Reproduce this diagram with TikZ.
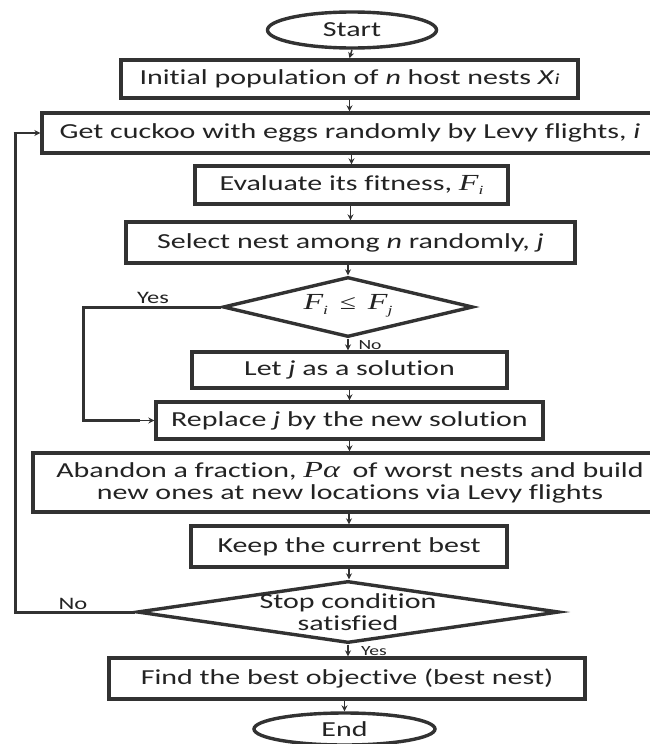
\documentclass[tikz,border=0pt]{standalone}
\usepackage{fontspec}
\setmainfont{Carlito}[FakeStretch=1.4,Ligatures=NoCommon]
\newfontfamily\mathfam{Liberation Serif}[FakeStretch=1.4]
\usetikzlibrary{shapes.geometric,arrows.meta}
\definecolor{ln}{RGB}{50,50,50}
\definecolor{tx}{RGB}{35,35,35}
\newcommand{\mFsub}[1]{{\mathfam\itshape\fontsize{23}{23}\selectfont F}\raisebox{-0.45ex}{\mathfam\itshape\fontsize{12.5}{12}\selectfont #1}}
\begin{document}
\begin{tikzpicture}[x=1pt,y=-1pt,
  font=\fontsize{21.4}{22}\selectfont, text=tx,
  box/.style={draw=ln, line width=3.4pt, rectangle, inner sep=0pt, align=center},
  term/.style={draw=ln, line width=3.4pt, ellipse, inner sep=0pt},
  dia/.style={draw=ln, line width=3.4pt, diamond, inner sep=0pt},
  arr/.style={draw=ln, line width=1.5pt, -{Stealth[length=6pt,width=6pt]}},
  loopln/.style={draw=ln, line width=3pt},
  lblbig/.style={font=\fontsize{17.5}{18}\selectfont, inner sep=0pt},
  lblsmall/.style={font=\fontsize{14}{14}\selectfont, inner sep=0pt}]
\useasboundingbox (0,0) rectangle (650,744);
\fill[white] (0,0) rectangle (650,744);

\node[term, minimum width=169pt, minimum height=36pt] (start) at (352,30) {Start};
\node[box, minimum width=457pt, minimum height=38pt] (b1) at (349.5,79) {Initial population of \textit{n} host nests \textit{X}{\fontsize{15.5}{15}\selectfont\textit{i}}};
\node[box, minimum width=616pt, minimum height=40pt] (b2) at (350,133) {Get cuckoo with eggs randomly by Levy flights, \textit{i}};
\node[box, minimum width=313pt, minimum height=38pt] (b3) at (351.5,185) {Evaluate its fitness, \mFsub{i}};
\node[box, minimum width=449pt, minimum height=41pt] (b4) at (350.5,242.5) {Select nest among \textit{n} randomly, \textit{j}};
\node[dia, minimum width=250pt, minimum height=60pt] (d1) at (348,307) {};
\node[inner sep=0pt] (d1t) at (348,306) {\mFsub{i}\;\;{\mathfam\fontsize{21}{21}\selectfont ≤}\;\;\mFsub{j}};
\node[box, minimum width=315pt, minimum height=36pt] (b5) at (349.5,370) {Let \textit{j} as a solution};
\node[box, minimum width=387pt, minimum height=37pt] (b6) at (349.5,420.5) {Replace \textit{j} by the new solution};
\node[box, minimum width=634pt, minimum height=59pt] (b7) at (350,482.5) {Abandon a fraction, {\mathfam\itshape\fontsize{23}{23}\selectfont Pα}\; of worst nests and build\\[0pt] new ones at new locations via Levy flights};
\node[box, minimum width=316pt, minimum height=41pt] (b8) at (349,546.5) {Keep the current best};
\node[dia, minimum width=422pt, minimum height=62pt] (d2) at (348,612) {};
\node[inner sep=0pt, align=center] (d2t) at (348,612) {Stop condition\\ satisfied};
\node[box, minimum width=476pt, minimum height=41pt] (b9) at (347,678.5) {Find the best objective (best nest)};
\node[term, minimum width=181pt, minimum height=32pt] (end) at (344.5,729) {End};

\node[lblbig] (yes1) at (153,298) {Yes};
\node[lblsmall] (no1) at (370,345) {No};
\node[lblbig] (no2) at (73,604) {No};
\node[lblsmall] (yes2) at (374,651) {Yes};

\coordinate (y1a) at (83,307);
\coordinate (y1b) at (83,420.5);
\coordinate (n2a) at (15,612);
\coordinate (n2b) at (15,133);

\draw[arr] (start.south) -- (b1.north);
\draw[arr] (b1.south) -- (b2.north -| b1.south);
\draw[arr] (b2.south -| b3.north) -- (b3.north);
\draw[arr] (b3.south -| b4.north) -- (b4.north);
\draw[arr] (b4.south -| d1.north) -- (d1.north);
\draw[arr] (d1.south) -- (b5.north -| d1.south);
\draw[arr] (b5.south) -- (b6.north);
\draw[arr] (b6.south) -- (b7.north -| b6.south);
\draw[arr] (b7.south -| b8.north) -- (b8.north);
\draw[arr] (b8.south) -- (d2.north -| b8.south);
\draw[arr] (d2.south) -- (b9.north -| d2.south);
\draw[arr] (b9.south -| end.north) -- (end.north);

\draw[loopln] (d1.west) -- (y1a) -- (y1b) -- ([xshift=-14pt]b6.west);
\draw[arr] ([xshift=-15pt]b6.west) -- (b6.west);
\draw[loopln] (d2.west) -- (n2a) -- ([yshift=1.5pt]n2b);
\draw[arr] ([xshift=-1.5pt]n2b) -- (b2.west);
\end{tikzpicture}
\end{document}
